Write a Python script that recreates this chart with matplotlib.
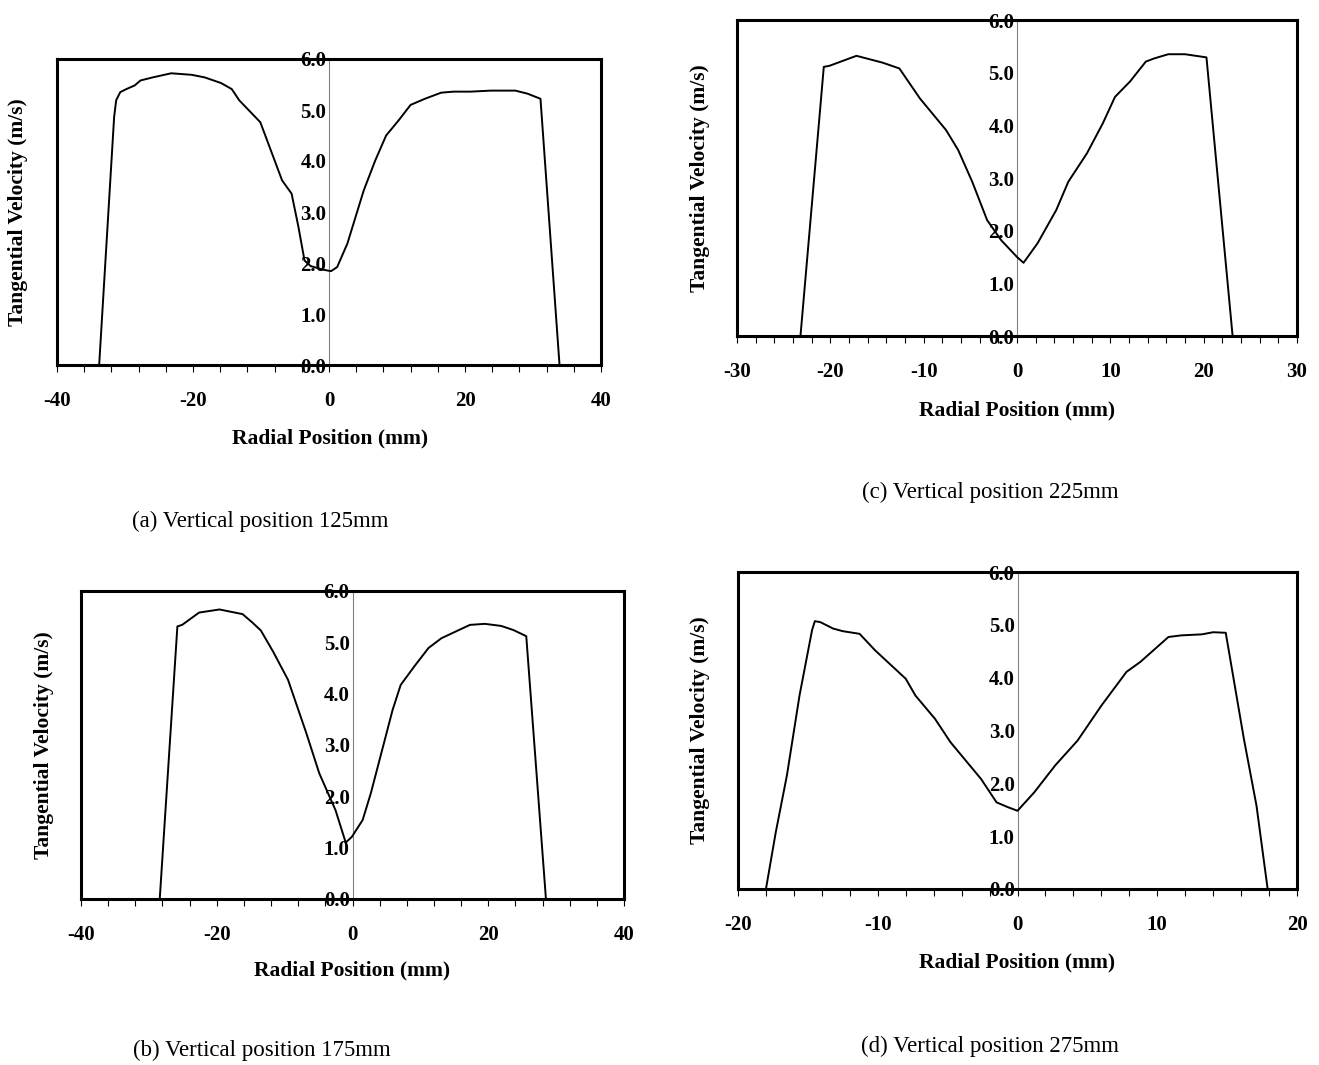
import matplotlib
matplotlib.use("Agg")
import matplotlib.pyplot as plt
from matplotlib.ticker import MultipleLocator, FormatStrFormatter

plt.rcParams["axes.unicode_minus"] = False

W, H = 1319, 1065

# (a) vertical position 125mm
xa = [-33.8, -31.6, -31.3, -30.7, -29.8, -28.6, -27.7, -25.9, -23.2, -20.2, -18.3, -15.9, -14.3,
      -13.2, -10.1, -6.9, -5.5, -4.5, -3.6, -2.7, -0.9, 0.3, 1.2, 2.7, 5.1, 6.8, 8.4, 10.2, 12.0,
      14.1, 16.5, 18.3, 20.8, 23.8, 27.4, 29.2, 31.1, 33.9]
ya = [0.0, 4.86, 5.19, 5.35, 5.41, 5.48, 5.58, 5.64, 5.72, 5.69, 5.64, 5.53, 5.41,
      5.19, 4.76, 3.62, 3.36, 2.71, 2.05, 1.94, 1.87, 1.84, 1.92, 2.38, 3.42, 4.01, 4.50, 4.79, 5.10,
      5.22, 5.34, 5.36, 5.36, 5.38, 5.38, 5.32, 5.22, 0.0]

# (b) vertical position 175mm
xb = [-28.4, -25.8, -25.1, -22.6, -19.6, -16.2, -14.7, -13.5, -11.7, -9.5, -6.8, -4.9, -2.5, -1.0,
      -0.1, 1.5, 2.7, 4.5, 5.9, 7.1, 9.1, 11.2, 13.1, 15.2, 17.3, 19.5, 21.9, 23.7, 25.6, 28.5]
yb = [0.0, 5.31, 5.34, 5.58, 5.64, 5.55, 5.38, 5.23, 4.82, 4.27, 3.23, 2.45, 1.73, 1.10,
      1.21, 1.54, 2.06, 2.97, 3.68, 4.17, 4.53, 4.89, 5.08, 5.21, 5.34, 5.36, 5.32, 5.24, 5.12, 0.0]

# (c) vertical position 225mm
xc = [-23.2, -20.7, -20.1, -17.2, -14.4, -12.6, -10.4, -7.6, -6.3, -4.8, -3.2, -1.7, 0.0, 0.7,
      2.2, 4.2, 5.5, 7.5, 9.2, 10.5, 12.1, 13.8, 14.7, 16.2, 18.0, 20.3, 23.1]
yc = [0.0, 5.11, 5.13, 5.32, 5.19, 5.08, 4.51, 3.91, 3.53, 2.93, 2.20, 1.82, 1.50, 1.39,
      1.76, 2.39, 2.93, 3.47, 4.04, 4.54, 4.83, 5.21, 5.27, 5.35, 5.35, 5.29, 0.0]

# (d) vertical position 275mm
xd = [-18.0, -17.3, -16.5, -15.6, -14.7, -14.5, -14.1, -13.2, -12.5, -11.3, -10.2, -8.0, -7.3,
      -5.9, -4.8, -2.6, -1.5, -0.7, 0.0, 1.2, 2.7, 4.3, 6.0, 7.8, 8.8, 10.8, 11.7, 13.2, 14.0,
      14.9, 16.2, 17.1, 17.9]
yd = [0.0, 1.07, 2.15, 3.66, 4.90, 5.07, 5.05, 4.93, 4.88, 4.83, 4.52, 3.98, 3.66,
      3.22, 2.78, 2.08, 1.64, 1.55, 1.48, 1.83, 2.34, 2.81, 3.47, 4.11, 4.30, 4.77, 4.80, 4.82, 4.86,
      4.85, 2.84, 1.58, 0.0]

captions = ["(a) Vertical position 125mm", "(b) Vertical position 175mm",
            "(c) Vertical position 225mm", "(d) Vertical position 275mm"]

SERIF = "Liberation Serif"

# pixel layout: box (left, top, right, bottom), xlim, major, minor,
# ylabel pos, xlabel pos, caption pos
panels = [
    (xa, ya, (57, 59, 601, 365), 40, 20, 4, (18, 212), (330, 438), (260, 521), captions[0]),
    (xc, yc, (737, 20, 1297, 336), 30, 10, 2, (700, 178), (1017, 410), (990, 492), captions[2]),
    (xb, yb, (81, 591, 624, 899), 40, 20, 4, (44, 745), (352, 970), (262, 1050), captions[1]),
    (xd, yd, (738, 572, 1297, 889), 20, 10, 2, (700, 730), (1017, 962), (990, 1046), captions[3]),
]


def fx(x):
    return x / W


def fy(y):
    return 1 - y / H


fig = plt.figure(figsize=(W / 100, H / 100), dpi=100)

for x, y, box, lim, major, minor, ylp, xlp, cap, captxt in panels:
    l, t, r, b = box
    ax = fig.add_axes([fx(l), fy(b), (r - l) / W, (b - t) / H])
    ax.plot(x, y, color="black", lw=1.4)
    ax.set_xlim(-lim, lim)
    ax.set_ylim(0, 6)

    for s in ["top", "right", "bottom"]:
        ax.spines[s].set_linewidth(2.2)
        ax.spines[s].set_color("black")
    ax.spines["left"].set_position(("data", 0))
    ax.spines["left"].set_linewidth(0.8)
    ax.spines["left"].set_color("#808080")
    ax.spines["left"].set_zorder(0.5)
    # outer left border of the frame
    ax.plot([0, 0], [0, 1], transform=ax.transAxes, color="black", lw=2.2,
            clip_on=False, solid_capstyle="projecting")

    ax.xaxis.set_major_locator(MultipleLocator(major))
    ax.xaxis.set_minor_locator(MultipleLocator(minor))
    ax.tick_params(axis="x", which="both", direction="out", length=5, width=0.8,
                   top=False, color="black")
    ax.tick_params(axis="x", which="major", pad=14)
    ax.yaxis.set_major_locator(MultipleLocator(1))
    ax.yaxis.set_major_formatter(FormatStrFormatter("%.1f"))
    ax.tick_params(axis="y", which="both", length=0, pad=2, right=False)

    for lab in ax.get_xticklabels() + ax.get_yticklabels():
        lab.set_fontfamily(SERIF)
        lab.set_fontweight("bold")
        lab.set_fontsize(15)

    fig.text(fx(ylp[0]), fy(ylp[1]), "Tangential Velocity (m/s)", rotation=90,
             ha="center", va="center", fontfamily=SERIF, fontweight="bold", fontsize=15.5)
    fig.text(fx(xlp[0]), fy(xlp[1]), "Radial Position (mm)", ha="center", va="center",
             fontfamily=SERIF, fontweight="bold", fontsize=15.5)
    fig.text(fx(cap[0]), fy(cap[1]), captxt, ha="center", va="center",
             fontfamily=SERIF, fontsize=16.5)

fig.savefig("out.png", dpi=100)
